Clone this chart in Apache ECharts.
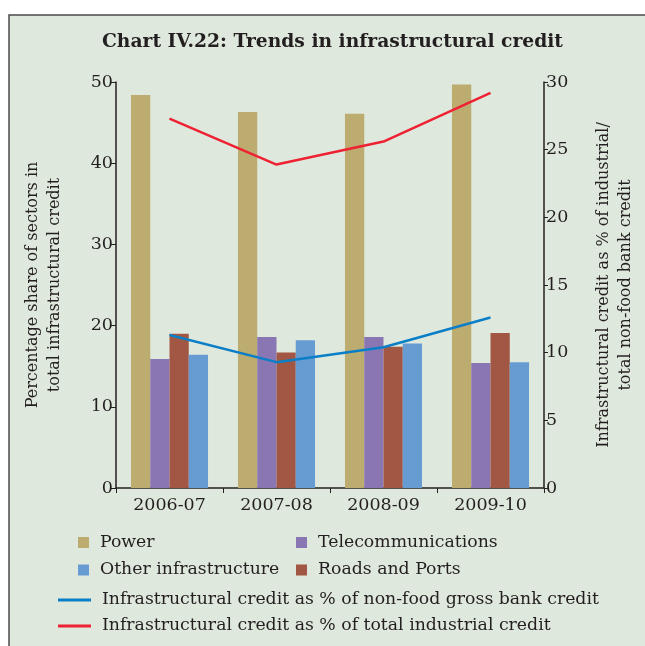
<!DOCTYPE html>
<html><head><meta charset="utf-8">
<script src="https://cdn.jsdelivr.net/npm/echarts@6/dist/echarts.min.js"></script>
<style>html,body{margin:0;padding:0;background:#fff;overflow:hidden;}#c{width:645px;height:646px;display:block;}</style>
</head><body><div id="c"></div>
<script>
const categories = ['2006-07','2007-08','2008-09','2009-10'];
const power = [48.4, 46.3, 46.1, 49.7];
const telecom = [15.9, 18.6, 18.6, 15.4];
const roads = [19.0, 16.7, 17.4, 19.1];
const other = [16.4, 18.2, 17.8, 15.5];
const nonFood = [11.3, 9.3, 10.4, 12.6];
const industrial = [27.3, 23.9, 25.6, 29.2];
const leftTicks = [0, 10, 20, 30, 40, 50];
const rightTicks = [0, 5, 10, 15, 20, 25, 30];

const FONT = 'DejaVu Serif';
const TXT = '#231f20';
const chart = echarts.init(document.getElementById('c'));
function leg(name, left, top, line) {
  return {
    data: [name], left: left, top: top, orient: 'horizontal',
    icon: 'rect', itemWidth: line ? 33 : 11, itemHeight: line ? 3 : 11,
    textStyle: {fontFamily: FONT, fontSize: 17.3, color: TXT, padding: [0,0,0,6]},
    selectedMode: false, padding: 0
  };
}
chart.setOption({
  backgroundColor: '#ffffff',
  graphic: [{type: 'rect', z: -10, shape: {x: 9, y: 15, width: 700, height: 700},
    style: {fill: '#dfe8dc', stroke: '#4a4a4a', lineWidth: 1.5}}],
  title: {text: 'Chart IV.22: Trends in infrastructural credit', left: 97, top: 28,
    textStyle: {fontFamily: FONT, fontWeight: 'bold', fontSize: 18.7, color: TXT}},
  legend: [
    leg('Power', 78, 534, false),
    leg('Telecommunications', 296, 534, false),
    leg('Other infrastructure', 78, 561.5, false),
    leg('Roads and Ports', 296, 561.5, false),
    leg('Infrastructural credit as % of non-food gross bank credit', 58, 591.5, true),
    leg('Infrastructural credit as % of total industrial credit', 58, 617.5, true)
  ],
  grid: {left: 116, right: 94, top: 82, bottom: 158},
  xAxis: {type: 'category', data: categories,
    axisLine: {lineStyle: {color: '#231f20', width: 1.5}},
    axisTick: {show: true, length: 5, lineStyle: {color: '#231f20'}},
    axisLabel: {fontFamily: FONT, fontSize: 17.5, color: TXT, margin: 8}},
  yAxis: [
    {type: 'value', min: 0, max: 50, interval: 10, position: 'left',
     name: 'Percentage share of sectors in\ntotal infrastructural credit',
     nameLocation: 'middle', nameGap: 50, nameRotate: 90,
     nameTextStyle: {fontFamily: FONT, fontSize: 16, color: TXT, lineHeight: 22},
     axisLine: {show: true, lineStyle: {color: '#231f20', width: 1.5}},
     axisTick: {show: true, length: 5, lineStyle: {color: '#231f20'}},
     axisLabel: {fontFamily: FONT, fontSize: 17.5, color: TXT, margin: 3},
     splitLine: {show: false}},
    {type: 'value', min: 0, max: 30, interval: 5, position: 'right',
     name: 'Infrastructural credit as % of industrial/\ntotal non-food bank credit',
     nameLocation: 'middle', nameGap: 49, nameRotate: 90,
     nameTextStyle: {fontFamily: FONT, fontSize: 16, color: TXT, lineHeight: 22},
     axisLine: {show: true, lineStyle: {color: '#231f20', width: 1.5}},
     axisTick: {show: true, length: 4, lineStyle: {color: '#231f20'}},
     axisLabel: {fontFamily: FONT, fontSize: 17.5, color: TXT, margin: 2},
     splitLine: {show: false}}
  ],
  series: [
    {name: 'Power', type: 'bar', data: power, itemStyle: {color: '#bdac6f'}, barGap: '0%', barCategoryGap: '28%'},
    {name: 'Telecommunications', type: 'bar', data: telecom, itemStyle: {color: '#8b76b4'}},
    {name: 'Roads and Ports', type: 'bar', data: roads, itemStyle: {color: '#a15743'}},
    {name: 'Other infrastructure', type: 'bar', data: other, itemStyle: {color: '#679cd3'}},
    {name: 'Infrastructural credit as % of non-food gross bank credit', type: 'line', yAxisIndex: 1,
     data: nonFood, showSymbol: false, symbol: 'none', lineStyle: {color: '#0a7fc8', width: 2.5}, itemStyle: {color: '#0a7fc8'}},
    {name: 'Infrastructural credit as % of total industrial credit', type: 'line', yAxisIndex: 1,
     data: industrial, showSymbol: false, symbol: 'none', lineStyle: {color: '#ee2233', width: 2.5}, itemStyle: {color: '#ee2233'}}
  ],
  animation: false
});
</script></body></html>
